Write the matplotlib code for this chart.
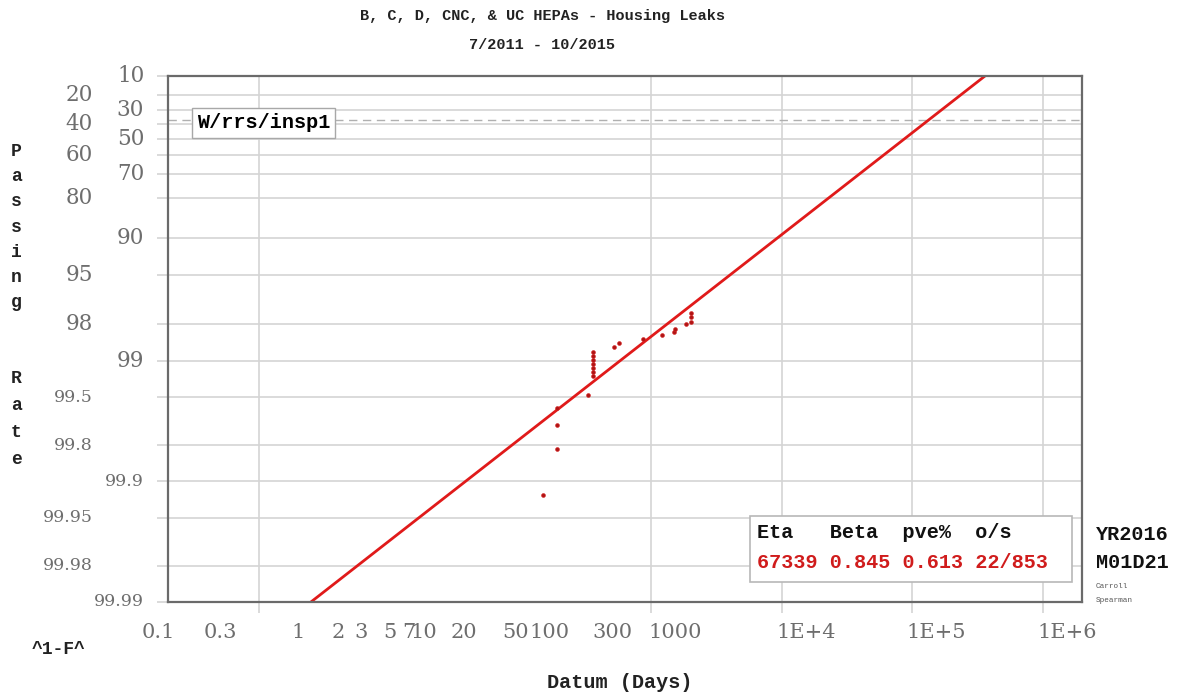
import numpy as np
import matplotlib.pyplot as plt
from matplotlib.patches import Rectangle
from matplotlib.transforms import ScaledTranslation

W, H = 1180, 694
MONO = 'Liberation Mono'
SERIF = 'DejaVu Serif'

# failures: age at leak (days) and passing rate (%)
days = [74, 96, 96, 96, 165, 179, 179, 179, 179, 179, 179, 179,
        261, 284, 431, 609, 749, 758, 925, 1005, 1005, 1005]
passing = [99.923, 99.813, 99.706, 99.592, 99.483, 99.261, 99.196, 99.132,
           99.058, 98.989, 98.909, 98.815, 98.717, 98.604, 98.494, 98.375,
           98.290, 98.180, 98.010, 97.911, 97.737, 97.551]

# weibull fit
eta = 67339
beta = 0.845
pve = 0.613
n_fail, n_susp = 22, 853

x_labels = [0.1, 0.3, 1, 2, 3, 5, 7, 10, 20, 50, 100, 300, 1000, 1e4, 1e5, 1e6]
x_text = ['0.1', '0.3', '1', '2', '3', '5', '7', '10', '20', '50', '100',
          '300', '1000', '1E+4', '1E+5', '1E+6']
x_grid = [0.1, 0.5, 1, 5, 10, 50, 100, 500, 1000, 5000, 1e4, 5e4, 1e5, 5e5, 1e6]

y_right = [10, 30, 50, 70, 90, 99, 99.9, 99.99]
y_left = [20, 40, 60, 80, 95, 98, 99.5, 99.8, 99.95, 99.98]


# weibull probability scale on the passing rate (increasing in R)
def fwd(r):
    r = np.asarray(r, dtype=float)
    with np.errstate(divide='ignore', invalid='ignore'):
        return -np.log(-np.log(r / 100.0))


def inv(y):
    y = np.asarray(y, dtype=float)
    return 100.0 * np.exp(-np.exp(-y))


def fx(x):
    return x / W


def fy(y):
    return 1 - y / H


fig = plt.figure(figsize=(W / 100, H / 100), dpi=100)
ax = fig.add_axes([fx(168), fy(602), (1082 - 168) / W, (602 - 76) / H])
ax.set_xscale('log')
ax.set_yscale('function', functions=(fwd, inv))
ax.set_xlim(0.1, 1e6)
ax.set_ylim(99.99, 10)

# grid + tick marks
grid_c = '#d4d4d4'
ax.set_xticks(x_grid, minor=True)
ax.set_xticks(x_labels, x_text)
ax.tick_params(axis='x', which='major', length=0, pad=15, labelsize=15,
               labelcolor='#6e6e6e')
ax.tick_params(axis='x', which='minor', length=8, width=1.2, color=grid_c)
ax.grid(True, axis='x', which='minor', color=grid_c, lw=1.2)
for lab in ax.get_xticklabels():
    lab.set_family(SERIF)
    dx = -(len(lab.get_text()) - 1) * 5
    lab.set_transform(lab.get_transform() + ScaledTranslation(dx / 100, 0, fig.dpi_scale_trans))

y_all = sorted(y_right + y_left)
ax.set_yticks(y_all, [''] * len(y_all))
ax.yaxis.set_minor_locator(plt.NullLocator())
ax.tick_params(axis='y', length=8, width=1.2, color=grid_c)
ax.grid(True, axis='y', color=grid_c, lw=1.2)

ytr = ax.get_yaxis_transform()
for v in y_right:
    ax.text(-0.026, v, f'{v:g}', transform=ytr, ha='right', va='center',
            family=SERIF, color='#6e6e6e', fontsize=15.5 if v == int(v) else 12.5)
for v in y_left:
    ax.text(-0.082, v, f'{v:g}', transform=ytr, ha='right', va='center',
            family=SERIF, color='#6e6e6e', fontsize=15.5 if v == int(v) else 12.5)

for s in ax.spines.values():
    s.set_color('#6a6a6a')
    s.set_linewidth(1.6)

# characteristic life line
ax.axhline(100 * np.exp(-1), color='#b0b0b0', lw=1, ls=(0, (6, 4)))

# fitted line
t = np.logspace(-1, 6, 400)
ax.plot(t, 100 * np.exp(-(t / eta) ** beta), color='#e01a1a', lw=2)

ax.plot(days, passing, 'o', ms=2.8, color='#b01414', mec='#d82020', mew=0.4)

ax.text(fx(197), fy(123), 'W/rrs/insp1', transform=fig.transFigure, ha='left', va='center',
        family=MONO, weight='bold', fontsize=14.5,
        bbox=dict(boxstyle='square,pad=0.25', fc='white', ec='#a8a8a8', lw=1))

# fit results box
fig.add_artist(Rectangle((fx(750), fy(582)), (1072 - 750) / W, (582 - 516) / H,
                         transform=fig.transFigure, fc='white', ec='#b8b8b8', lw=1.2))
fig.text(fx(757), fy(533), 'Eta   Beta  pve%  o/s', ha='left', va='center',
         family=MONO, weight='bold', fontsize=14.5, color='#111111')
fig.text(fx(757), fy(563), f'{eta} {beta} {pve} {n_fail}/{n_susp}', ha='left', va='center',
         family=MONO, weight='bold', fontsize=14.5, color='#d01c1c')

fig.text(fx(1096), fy(535), 'YR2016', ha='left', va='center',
         family=MONO, weight='bold', fontsize=14.5, color='#111111')
fig.text(fx(1096), fy(563), 'M01D21', ha='left', va='center',
         family=MONO, weight='bold', fontsize=14.5, color='#111111')
fig.text(fx(1096), fy(587), 'Carroll', ha='left', va='center',
         family=MONO, fontsize=5.5, color='#555555')
fig.text(fx(1096), fy(601), 'Spearman', ha='left', va='center',
         family=MONO, fontsize=5.5, color='#555555')

# titles and axis labels
fig.text(fx(542), fy(16), 'B, C, D, CNC, & UC HEPAs - Housing Leaks', ha='center', va='center',
         family=MONO, weight='bold', fontsize=11, color='#222222')
fig.text(fx(542), fy(45), '7/2011 - 10/2015', ha='center', va='center',
         family=MONO, weight='bold', fontsize=11, color='#222222')
fig.text(fx(620), fy(683), 'Datum (Days)', ha='center', va='center',
         family=MONO, weight='bold', fontsize=14.5, color='#222222')
fig.text(fx(16), fy(143), '\n'.join('Passing'), ha='center', va='top',
         family=MONO, weight='bold', fontsize=13, color='#222222', linespacing=1.63)
fig.text(fx(16), fy(370), '\n'.join('Rate'), ha='center', va='top',
         family=MONO, weight='bold', fontsize=13, color='#222222', linespacing=1.78)
fig.text(fx(58), fy(650), '^1-F^', ha='center', va='center',
         family=MONO, weight='bold', fontsize=13, color='#222222')

fig.savefig('out.png', dpi=100)
